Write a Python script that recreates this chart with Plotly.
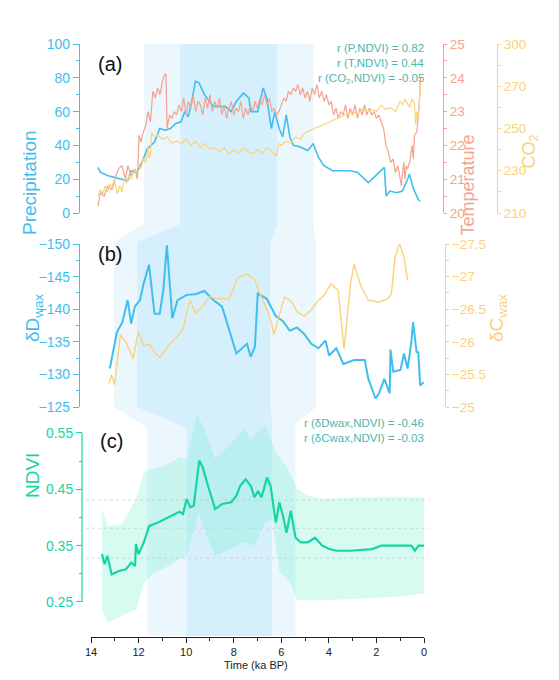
import plotly.graph_objects as go

W, H = 559, 680
OFF = 8  # page body margin
def X(p): return (p - OFF) / W
def Y(p): return 1 - (p - OFF) / H

# ---------------- data ----------------
p_age = [13.71,13.6,13.28,12.98,12.68,12.46,12.31,12.08,11.86,11.63,11.33,11.11,10.88,10.66,10.44,10.21,10.06,9.91,9.76,9.61,9.46,9.23,8.86,8.34,8.11,7.89,7.59,7.36,7.29,6.99,6.76,6.61,6.42,6.27,6.09,5.94,5.79,5.64,5.49,5.19,4.89,4.66,4.44,4.21,3.84,3.09,2.79,2.34,2.04,1.67,1.59,1.44,1.14,0.91,0.69,0.61,0.46,0.24,0.16]
p_val = [27,24,22,21,20,19,25,24,30,38,42,50,49,50,53,54,60,57,66,78,77,70,63,63,60,66,71,68,60,60,74,68,50,60,50,45,58,45,40,39,37,41,33,28,25,25,24,18,22,27,10,13,12,13,20,23,15,8,7]

t_age = [13.71,13.6,13.45,13.3,13.15,13.0,12.85,12.7,12.55,12.45,12.3,12.15,12.05,11.98,11.9,11.8,11.7,11.6,11.5,11.4,11.3,11.2,11.1,11.0,10.9,10.85,10.8,10.7,10.6,10.5,10.4,10.3,10.2,10.1,10.0,9.9,9.8,9.7,9.6,9.5,9.4,9.3,9.2,9.1,9.0,8.9,8.8,8.7,8.6,8.5,8.4,8.3,8.2,8.1,8.0,7.9,7.8,7.7,7.6,7.5,7.4,7.3,7.2,7.1,7.0,6.9,6.8,6.7,6.6,6.5,6.4,6.3,6.2,6.1,6.0,5.9,5.8,5.7,5.6,5.5,5.4,5.3,5.2,5.1,5.0,4.9,4.8,4.7,4.6,4.5,4.4,4.3,4.2,4.1,4.0,3.9,3.8,3.7,3.6,3.5,3.4,3.3,3.2,3.1,3.0,2.9,2.8,2.7,2.6,2.5,2.4,2.3,2.2,2.1,2.0,1.9,1.8,1.7,1.6,1.5,1.4,1.3,1.2,1.1,1.0,0.95,0.9,0.85,0.8,0.75,0.7,0.6,0.5,0.45,0.4,0.3,0.25,0.2,0.15]
t_val = [20.2,20.6,20.5,20.8,20.7,21.0,21.3,21.4,21.0,21.4,21.1,21.3,21.0,22.3,22.1,22.4,22.6,23.0,22.7,23.6,23.4,23.7,23.5,23.9,24.1,24.1,22.5,22.9,22.8,23.0,22.9,23.2,23.0,23.4,22.9,23.3,23.1,23.5,23.0,23.3,23.2,22.9,23.4,23.1,23.5,23.0,23.3,23.1,23.4,22.9,23.2,22.8,23.1,23.3,22.9,23.1,23.0,23.3,22.8,23.1,22.9,23.2,23.0,23.3,23.1,23.4,23.2,23.5,23.2,23.4,23.0,23.1,22.9,23.0,23.2,23.4,23.3,23.6,23.5,23.7,23.6,23.8,23.5,23.7,23.4,23.6,23.3,23.7,23.5,23.8,23.4,23.6,23.3,23.5,23.2,23.3,22.9,23.1,22.8,23.0,22.9,23.2,22.8,23.1,22.9,23.2,22.8,23.1,22.9,23.2,22.9,23.1,22.9,23.0,22.8,22.9,22.7,22.5,22.0,21.8,21.5,21.6,21.2,21.4,21.0,20.8,21.2,21.5,21.0,21.4,21.3,21.5,22.0,21.6,22.3,22.4,22.8,23.2,24.0]

c_age = [13.71,13.6,13.5,13.4,13.3,13.2,13.1,13.0,12.9,12.8,12.7,12.6,12.5,12.4,12.3,12.2,12.1,12.0,11.9,11.8,11.7,11.6,11.55,11.5,11.45,11.4,11.3,11.2,11.0,10.8,10.6,10.4,10.2,10.0,9.8,9.6,9.4,9.2,9.0,8.8,8.6,8.4,8.2,8.0,7.8,7.6,7.4,7.2,7.0,6.8,6.6,6.4,6.2,6.1,6.0,5.8,5.6,5.4,5.2,5.0,4.8,4.6,4.4,4.2,4.0,3.8,3.6,3.4,3.2,3.0,2.8,2.6,2.4,2.2,2.0,1.8,1.6,1.4,1.2,1.0,0.9,0.8,0.7,0.6,0.5,0.4,0.35,0.3,0.25,0.2,0.15]
c_val = [218,221,219,223,220,224,221,225,219,223,220,226,224,228,226,231,229,233,231,236,234,241,236,238,248,247,246,247,245,246,243,244,243,245,242,244,241,243,240,241,239,241,238,240,238,241,239,238,240,238,241,239,237,243,242,244,243,246,245,248,249,250,251,252,253,254,255,256,257,258,257,259,258,259,258,261,259,260,258,263,261,264,262,260,264,262,252,258,256,260,273]

d_age = [13.21,12.91,12.68,12.46,12.31,12.16,11.94,11.78,11.56,11.33,11.11,10.96,10.81,10.58,10.36,9.98,9.61,9.23,8.86,8.49,8.19,7.89,7.44,7.29,7.11,6.99,6.61,6.24,5.94,5.64,5.34,5.04,4.74,4.44,4.14,3.99,3.69,3.39,2.94,2.49,2.34,2.04,1.89,1.67,1.44,1.41,1.29,0.99,0.84,0.69,0.54,0.46,0.31,0.24,0.16,0.01]
d_val = [-130.9,-136.5,-138,-141.4,-137.8,-140.4,-141.4,-144,-146.8,-139.3,-139.3,-142.9,-149.8,-138.6,-141.4,-142.2,-142.3,-142.8,-141.4,-140.4,-136.8,-133.2,-134.7,-132.7,-134.2,-142.4,-141.6,-139,-138.2,-136.7,-137.2,-136.2,-134.7,-134,-135.2,-132.9,-134,-131.6,-132.2,-132.2,-129.3,-126.3,-127.1,-129.3,-127.1,-133.8,-130.4,-130.7,-133.2,-130.9,-134.7,-138,-133.4,-133.4,-128.3,-128.8]

dc_age = [13.24,13.13,13.01,12.76,12.53,12.23,12.01,11.78,11.56,11.33,11.11,10.74,10.44,10.14,9.84,9.61,9.31,9.01,8.64,8.19,7.81,7.44,7.14,6.76,6.46,6.31,6.09,5.86,5.56,5.34,5.04,4.74,4.51,4.21,3.91,3.61,3.36,3.09,2.94,2.64,2.34,1.89,1.52,1.37,1.22,1.03,0.84,0.69]
dc_val = [-25.36,-25.49,-25.34,-26.11,-25.99,-25.74,-26.16,-25.94,-25.96,-25.84,-25.76,-25.94,-26.06,-26.19,-26.64,-26.44,-26.54,-26.69,-26.66,-26.66,-26.99,-27.04,-26.96,-26.64,-26.36,-26.11,-26.41,-26.69,-26.61,-26.46,-26.39,-26.49,-26.61,-26.71,-26.89,-26.79,-25.89,-26.89,-27.19,-26.84,-26.64,-26.61,-26.66,-26.74,-27.29,-27.51,-27.29,-26.94]

n_age = [13.54,13.43,13.31,13.13,12.83,12.53,12.31,12.15,12.11,12.0,11.78,11.55,11.18,10.88,10.58,10.28,10.13,9.98,9.83,9.68,9.45,9.3,9.08,8.78,8.48,8.1,7.88,7.73,7.5,7.28,7.13,6.98,6.83,6.6,6.45,6.23,6.08,5.93,5.78,5.6,5.4,5.18,4.88,4.58,4.28,3.98,3.68,3.08,2.18,1.8,1.28,0.53,0.38,0.23,0.0]
n_val = [0.335,0.317,0.332,0.299,0.305,0.308,0.320,0.314,0.353,0.335,0.356,0.385,0.391,0.397,0.403,0.410,0.406,0.433,0.418,0.421,0.501,0.489,0.456,0.415,0.424,0.427,0.439,0.456,0.468,0.456,0.436,0.447,0.436,0.471,0.456,0.391,0.427,0.403,0.373,0.412,0.364,0.356,0.356,0.364,0.350,0.344,0.341,0.341,0.344,0.350,0.350,0.350,0.341,0.350,0.350]

nu_age = [13.54,13.3,12.7,12.1,11.78,11.48,10.88,10.28,9.98,9.54,9.24,8.78,8.18,7.58,7.28,6.68,6.23,5.78,5.33,4.89,4.29,2.78,1.28,0.0]
nu_val = [0.415,0.385,0.388,0.433,0.480,0.486,0.492,0.507,0.504,0.584,0.557,0.504,0.528,0.557,0.539,0.563,0.516,0.490,0.451,0.439,0.433,0.436,0.437,0.436]
nl_age = [13.54,13.3,12.7,12.1,11.78,11.33,10.74,10.28,9.98,9.47,9.09,8.78,8.18,7.58,7.13,6.68,6.38,6.08,5.63,5.33,4.29,2.78,1.28,0.0]
nl_val = [0.237,0.213,0.225,0.237,0.284,0.302,0.314,0.326,0.331,0.409,0.362,0.332,0.344,0.356,0.350,0.392,0.398,0.303,0.285,0.253,0.253,0.256,0.259,0.265]

ref_lines = [0.431, 0.381, 0.328]

light_edges = dict(a=(11.76, 4.65), b=(13.03, 4.53), c=(11.63, 5.41))
dark_edges = dict(a=(10.24, 6.18), b=(12.06, 6.47), c=(9.98, 6.39))

CP = "#41bdee"; CT = "#f5a28e"; CC = "#fbd27c"; CN = "#14d6a4"; CR = "#4db6ae"
FONT = "Liberation Sans, Arial"

fig = go.Figure()

XL, XR = 91, 424
PXN = 169 / 0.3  # pixels per NDVI unit
ya = (44, 213); yb = (244, 407)
n_top, n_bot = 0.59, 0.25 - (637 - 602) / PXN
yc = (433 - (n_top - 0.55) * PXN, 637)
dom = lambda t: [Y(t[1]), Y(t[0])]

fig.add_trace(go.Scatter(x=t_age, y=t_val, xaxis="x", yaxis="y2", mode="lines", line=dict(color=CT, width=1.2)))
fig.add_trace(go.Scatter(x=c_age, y=c_val, xaxis="x", yaxis="y3", mode="lines", line=dict(color=CC, width=1.2)))
fig.add_trace(go.Scatter(x=p_age, y=p_val, xaxis="x", yaxis="y", mode="lines", line=dict(color=CP, width=1.6)))
fig.add_trace(go.Scatter(x=dc_age, y=dc_val, xaxis="x2", yaxis="y5", mode="lines", line=dict(color=CC, width=1.4)))
fig.add_trace(go.Scatter(x=d_age, y=d_val, xaxis="x2", yaxis="y4", mode="lines", line=dict(color=CP, width=2)))
fig.add_trace(go.Scatter(x=nu_age, y=nu_val, xaxis="x3", yaxis="y6", mode="lines", line=dict(width=0), hoverinfo="skip"))
fig.add_trace(go.Scatter(x=nl_age, y=nl_val, xaxis="x3", yaxis="y6", mode="lines", line=dict(width=0), fill="tonexty", fillcolor="rgba(110,240,205,0.28)", hoverinfo="skip"))
fig.add_trace(go.Scatter(x=n_age, y=n_val, xaxis="x3", yaxis="y6", mode="lines", line=dict(color=CN, width=2.2)))

def band_path(e, color):
    la, ra = e["a"]; lb, rb = e["b"]; lc, rc = e["c"]
    pts = [(la, Y(44)), (la, Y(224)), (lb, Y(242)), (lb, Y(407)), (lc, Y(428)), (lc, Y(636)),
           (rc, Y(636)), (rc, Y(424)), (rb, Y(407)), (rb, Y(244)), (ra, Y(225)), (ra, Y(44))]
    path = "M " + " L ".join(f"{x},{y}" for x, y in pts) + " Z"
    return dict(type="path", path=path, xref="x3", yref="paper", fillcolor=color, line=dict(width=0), layer="below")

shapes = [band_path(light_edges, "#ebf6fd"), band_path(dark_edges, "#d6effc")]
for v in ref_lines:
    shapes.append(dict(type="line", xref="paper", yref="y6", x0=X(XL - 5), x1=X(XR + 5), y0=v, y1=v,
                       line=dict(color="#c8c8c8", width=0.7, dash="dot"), layer="below"))
shapes.append(dict(type="line", xref="paper", yref="y6", x0=X(82), x1=X(82), y0=0.25, y1=0.55, line=dict(color=CN, width=1.2)))
fig.update_layout(shapes=shapes)

xcommon = dict(range=[14, 0], domain=[X(XL), X(XR)], showgrid=False, zeroline=False, automargin=False)
tf = lambda c, s=14: dict(family=FONT, size=s, color=c)
def yax(rng, d, pos, side, c, tick, dtick_minor, tl=6, fs=14, **kw):
    return dict(range=rng, domain=d, anchor="free", position=pos, side=side, showgrid=False, zeroline=False,
                showline=True, linecolor=c, linewidth=1.2, ticks="outside", ticklen=tl, tickcolor=c,
                tickfont=tf(c, fs), tickvals=tick, automargin=False,
                minor=dict(ticks="outside", ticklen=3, tickcolor=c, dtick=dtick_minor), **kw)

fig.update_layout(
    width=W, height=H, margin=dict(l=0, r=0, t=0, b=0, autoexpand=False), showlegend=False,
    paper_bgcolor="white", plot_bgcolor="rgba(0,0,0,0)",
    xaxis=dict(**xcommon, anchor="y", visible=False),
    xaxis2=dict(**xcommon, anchor="y4", visible=False),
    xaxis3=dict(**xcommon, anchor="free", position=Y(637), showline=True, linecolor="#222", linewidth=1,
                ticks="outside", ticklen=5, tickcolor="#222", tickvals=[14,12,10,8,6,4,2,0],
                tickfont=dict(family=FONT, size=11, color="#222"),
                minor=dict(ticks="outside", ticklen=3, tickcolor="#222", dtick=1)),
    yaxis=yax([0, 100], dom(ya), X(79), "left", CP, [0,20,40,60,80,100], 10),
    yaxis2=yax([20, 25], dom(ya), X(443), "right", CT, [20,21,22,23,24,25], 0.5, tl=3, fs=13.5, overlaying="y"),
    yaxis3=yax([210, 290], dom(ya), X(497), "right", CC, [210,230,250,270,290], 10, tl=3, fs=13.5, overlaying="y",
               ticktext=["210","230","250","270","300"]),
    yaxis4=yax([-125, -150], dom(yb), X(79), "left", CP, [-150,-145,-140,-135,-130,-125], 2.5),
    yaxis5=yax([-25, -27.5], dom(yb), X(445), "right", CC, [-27.5,-27,-26.5,-26,-25.5,-25], 0.25, tl=3, fs=13.5, overlaying="y4"),
    yaxis6=dict(range=[n_bot, n_top], domain=dom(yc), anchor="free", position=X(82), showgrid=False, automargin=False,
                zeroline=False, showline=False, ticks="outside", ticklen=6, tickcolor=CN, tickfont=tf(CN),
                tickvals=[0.25,0.35,0.45,0.55], tickformat=".2f",
                minor=dict(ticks="outside", ticklen=3, tickcolor=CN, tickvals=[0.3,0.4,0.5])),
)

ann = []
def A(text, x, y, c, size, **kw):
    ann.append(dict(text=text, x=X(x), y=Y(y), xref="paper", yref="paper", showarrow=False,
                    font=dict(family=FONT, size=size, color=c), **kw))
A("(a)", 96, 51, "#111", 20, xanchor="left")
A("(b)", 96, 254, "#111", 20, xanchor="left")
A("(c)", 98, 441, "#111", 20, xanchor="left")
A("r (P,NDVI) = 0.82", 426, 40, CR, 11.5, xanchor="right")
A("r (T,NDVI) = 0.44", 426, 55, CR, 11.5, xanchor="right")
A("r (CO<sub>2</sub>,NDVI) = -0.05", 426, 70, CR, 11.5, xanchor="right")
A("r (δDwax,NDVI) = -0.46", 426, 423, CR, 11.5, xanchor="right")
A("r (δCwax,NDVI) = -0.03", 426, 438, CR, 11.5, xanchor="right")
A("Precipitation", 17, 128, CP, 19, textangle=-90)
A("Temperature", 479, 133, CT, 18, textangle=-90)
A("CO<sub>2</sub>", 543, 133, CC, 18, textangle=-90)
A("δD<sub>wax</sub>", 20, 318, CP, 19, textangle=-90)
A("δC<sub>wax</sub>", 512, 318, CC, 19, textangle=-90)
A("NDVI", 20, 500, CN, 19, textangle=-90)
A("Time (ka BP)", 256, 673, "#222", 11)
fig.update_layout(annotations=ann)

fig.write_html("out.html")
